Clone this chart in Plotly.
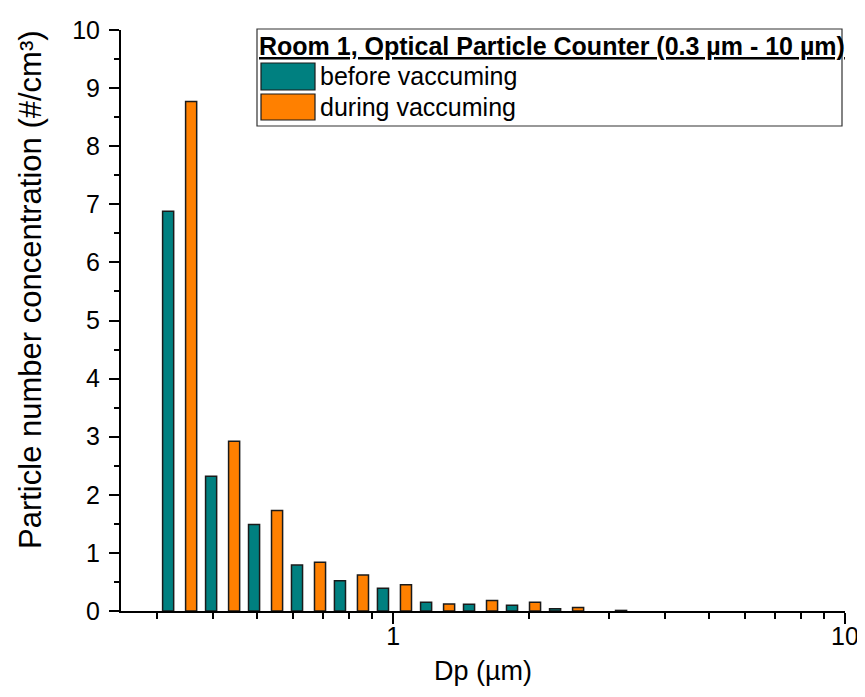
import plotly.graph_objects as go

# ---- data ----
dp_centers = [0.335, 0.417, 0.519, 0.646, 0.804, 1.001, 1.247, 1.552,
              1.932, 2.406, 2.995, 3.729, 4.643, 5.781, 7.197, 8.962]
before_vac = [6.88, 2.32, 1.49, 0.79, 0.52, 0.39, 0.15, 0.115,
              0.10, 0.04, 0.0, 0.0, 0.0, 0.0, 0.0, 0.0]
during_vac = [8.77, 2.92, 1.73, 0.84, 0.62, 0.45, 0.12, 0.18,
              0.15, 0.06, 0.01, 0.0, 0.0, 0.0, 0.0, 0.0]
series_names = ["before vaccuming", "during vaccuming"]
legend_title = "Room 1, Optical Particle Counter (0.3 µm - 10 µm)"
x_title = "Dp (µm)"
y_title = "Particle number concentration (#/cm³)"
x_ticks = [1, 10]
x_minor = [0.3, 0.4, 0.5, 0.6, 0.7, 0.8, 0.9, 2, 3, 4, 5, 6, 7, 8, 9]

# ---- style ----
TEAL = "#008080"
ORANGE = "#FF8000"
FONT = "Arial, Liberation Sans, sans-serif"
BAR_W = 0.0245          # bar width in decades
OFFS = [-0.0228, 0.0281]  # bar centre offsets in decades


def log_geom(centers, off, w):
    lefts = [c * 10 ** (off - w / 2) for c in centers]
    rights = [c * 10 ** (off + w / 2) for c in centers]
    return [l - c for l, c in zip(lefts, centers)], [r - l for l, r in zip(lefts, rights)]


fig = go.Figure()
for vals, name, col, off in zip([before_vac, during_vac], series_names,
                                [TEAL, ORANGE], OFFS):
    o, w = log_geom(dp_centers, off, BAR_W)
    fig.add_trace(go.Bar(x=dp_centers, y=vals, name=name, offset=o, width=w,
                         marker=dict(color=col,
                                     line=dict(color="#1a1a1a",
                                               width=[1.5 if v > 0 else 0 for v in vals])),
                         showlegend=False))

W, H = 865, 697
PAGE = 8  # default body margin of the html page
L, R, T, B = 113, 28, 22, 94
pw, ph = W - L - R, H - T - B


def px(x):
    return (x - PAGE - L) / pw


def py(y):
    return (H - B - (y - PAGE)) / ph


# custom legend (box, title, swatches)
shapes = [
    dict(type="rect", xref="paper", yref="paper", x0=px(257), x1=px(842),
         y0=py(126), y1=py(29), line=dict(color="#333333", width=1.2), fillcolor="white"),
    dict(type="rect", xref="paper", yref="paper", x0=px(261), x1=px(315),
         y0=py(90), y1=py(63), line=dict(color="#1a1a1a", width=1.2), fillcolor=TEAL),
    dict(type="rect", xref="paper", yref="paper", x0=px(261), x1=px(315),
         y0=py(120), y1=py(94), line=dict(color="#1a1a1a", width=1.2), fillcolor=ORANGE),
]
annotations = [
    dict(text="<b><u>" + legend_title + "</u></b>", xref="paper", yref="paper",
         x=px(257), y=py(46), xanchor="left", yanchor="middle", showarrow=False,
         font=dict(family=FONT, size=25, color="black")),
    dict(text=series_names[0], xref="paper", yref="paper",
         x=px(318), y=py(76), xanchor="left", yanchor="middle", showarrow=False,
         font=dict(family=FONT, size=25, color="black")),
    dict(text=series_names[1], xref="paper", yref="paper",
         x=px(318), y=py(107), xanchor="left", yanchor="middle", showarrow=False,
         font=dict(family=FONT, size=25, color="black")),
    dict(text=y_title, xref="paper", yref="paper", textangle=-90,
         x=px(30), y=py(290), xanchor="center", yanchor="middle", showarrow=False,
         font=dict(family=FONT, size=31, color="black")),
]

fig.update_layout(
    width=W, height=H,
    margin=dict(l=L, r=R, t=T, b=B, autoexpand=False),
    paper_bgcolor="white", plot_bgcolor="white",
    barmode="overlay",
    font=dict(family=FONT, size=25, color="black"),
    shapes=shapes, annotations=annotations,
    showlegend=False,
)
fig.update_xaxes(
    type="log", range=[-0.60206, 1.0],
    tickmode="array", tickvals=x_ticks, ticktext=[str(v) for v in x_ticks],
    ticks="outside", ticklen=11, tickwidth=2, tickcolor="black",
    minor=dict(tickmode="array", tickvals=x_minor, ticks="outside",
               ticklen=6, tickwidth=2, tickcolor="black", showgrid=False),
    showline=True, linecolor="black", linewidth=2,
    showgrid=False, zeroline=False,
    tickfont=dict(size=25), ticklabelstandoff=-9,
    title=dict(text=x_title, font=dict(size=27), standoff=12),
)
fig.update_yaxes(
    range=[0, 10], dtick=1, tick0=0,
    ticks="outside", ticklen=10, tickwidth=2, tickcolor="black",
    minor=dict(dtick=0.5, ticks="outside", ticklen=5, tickwidth=2,
               tickcolor="black", showgrid=False),
    showline=True, linecolor="black", linewidth=2,
    showgrid=False, zeroline=False,
    tickfont=dict(size=25), ticklabelstandoff=4,
)

fig.write_html("out.html")
